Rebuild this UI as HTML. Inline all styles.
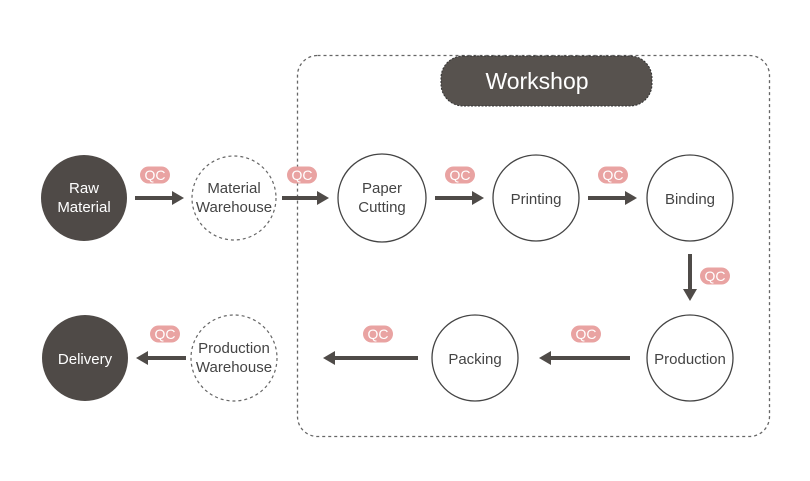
<!DOCTYPE html>
<html><head><meta charset="utf-8"><style>
html,body{margin:0;padding:0;background:#fff;}
svg{display:block;font-family:"Liberation Sans",Arial,sans-serif;}
</style></head><body>
<svg width="810" height="481" viewBox="0 0 810 481" xmlns="http://www.w3.org/2000/svg">
<defs>
<marker id="ah" markerWidth="12" markerHeight="14" refX="6" refY="7" orient="auto" markerUnits="userSpaceOnUse">
<path d="M0,0 L12,7 L0,14 Z" fill="#4f4b48"/>
</marker>
<g id="qc"><rect x="-15" y="-8.5" width="30" height="17" rx="8.5" fill="#e9a3a2"/><text x="0" y="5" text-anchor="middle" font-size="14" fill="#fff">QC</text></g>
</defs>
<rect x="297.5" y="55.5" width="472" height="381" rx="20" fill="none" stroke="#666" stroke-width="1.3" stroke-dasharray="3,3"/>
<rect x="441" y="56" width="211" height="50" rx="22" fill="#57524e" stroke="#333" stroke-width="1" stroke-dasharray="2,1.5"/>
<text x="537" y="89" text-anchor="middle" font-size="23" fill="#fff">Workshop</text>

<g font-size="15" fill="#444" text-anchor="middle">
<circle cx="84" cy="198" r="43" fill="#4f4a47"/>
<text x="84" y="193" fill="#fff">Raw</text><text x="84" y="212" fill="#fff">Material</text>
<circle cx="234" cy="198" r="42" fill="none" stroke="#666" stroke-width="1.2" stroke-dasharray="3,3"/>
<text x="234" y="193">Material</text><text x="234" y="212">Warehouse</text>
<circle cx="382" cy="198" r="44" fill="#fff" stroke="#444" stroke-width="1.3"/>
<text x="382" y="193">Paper</text><text x="382" y="212">Cutting</text>
<circle cx="536" cy="198" r="43" fill="#fff" stroke="#444" stroke-width="1.3"/>
<text x="536" y="204">Printing</text>
<circle cx="690" cy="198" r="43" fill="#fff" stroke="#444" stroke-width="1.3"/>
<text x="690" y="204">Binding</text>
<circle cx="690" cy="358" r="43" fill="#fff" stroke="#444" stroke-width="1.3"/>
<text x="690" y="364">Production</text>
<circle cx="475" cy="358" r="43" fill="#fff" stroke="#444" stroke-width="1.3"/>
<text x="475" y="364">Packing</text>
<circle cx="234" cy="358" r="43" fill="none" stroke="#666" stroke-width="1.2" stroke-dasharray="3,3"/>
<text x="234" y="353">Production</text><text x="234" y="372">Warehouse</text>
<circle cx="85" cy="358" r="43" fill="#4f4a47"/>
<text x="85" y="364" fill="#fff">Delivery</text>
</g>

<g stroke="#4f4b48" stroke-width="4" marker-end="url(#ah)">
<line x1="135" y1="198" x2="178" y2="198"/>
<line x1="282" y1="198" x2="323" y2="198"/>
<line x1="435" y1="198" x2="478" y2="198"/>
<line x1="588" y1="198" x2="631" y2="198"/>
<line x1="690" y1="254" x2="690" y2="295"/>
<line x1="630" y1="358" x2="545" y2="358"/>
<line x1="418" y1="358" x2="329" y2="358"/>
<line x1="186" y1="358" x2="142" y2="358"/>
</g>

<use href="#qc" x="155" y="175"/>
<use href="#qc" x="302" y="175"/>
<use href="#qc" x="460" y="175"/>
<use href="#qc" x="613" y="175"/>
<use href="#qc" x="715" y="276"/>
<use href="#qc" x="586" y="334"/>
<use href="#qc" x="378" y="334"/>
<use href="#qc" x="165" y="334"/>
</svg>
</body></html>
